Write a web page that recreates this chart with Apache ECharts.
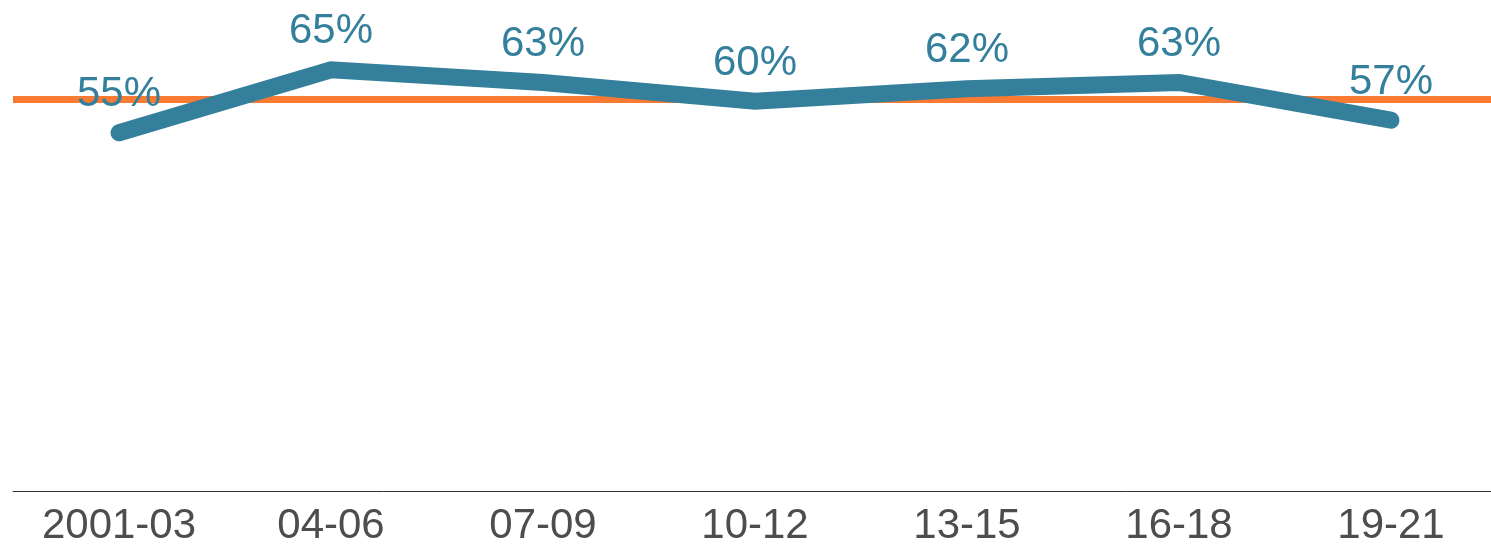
<!DOCTYPE html>
<html>
<head>
<meta charset="utf-8">
<script src="https://cdn.jsdelivr.net/npm/echarts@6/dist/echarts.min.js"></script>
<style>
html,body{margin:0;padding:0;background:#fff;overflow:hidden;}
#chart{width:1500px;height:547px;}
</style>
</head>
<body>
<div id="chart"></div>
<script>
const categories = ['2001-03', '04-06', '07-09', '10-12', '13-15', '16-18', '19-21'];
const shareValues = [55, 65, 63, 60, 62, 63, 57];
const referenceValue = 60.4;

const chart = echarts.init(document.getElementById('chart'));
chart.setOption({
  animation: false,
  backgroundColor: '#ffffff',
  grid: { left: 13, width: 1484, top: 7, bottom: 67.5, containLabel: false },
  xAxis: {
    type: 'category',
    data: categories,
    boundaryGap: true,
    offset: 12.5,
    axisLine: { show: true, onZero: false, lineStyle: { color: '#333333', width: 1 } },
    axisTick: { show: false },
    axisLabel: { color: '#4d4d4d', fontSize: 42, fontFamily: 'Liberation Sans, Arial, sans-serif', margin: 14, interval: 0 },
    splitLine: { show: false }
  },
  yAxis: {
    type: 'value',
    min: 0,
    max: 75,
    show: false,
    splitLine: { show: false }
  },
  series: [
    {
      name: 'ref',
      type: 'line',
      zlevel: 0,
      z: 1,
      data: [],
      markLine: {
        silent: true,
        symbol: ['none', 'none'],
        label: { show: false },
        lineStyle: { color: '#f97a33', width: 7, type: 'solid' },
        data: [{ yAxis: referenceValue }]
      }
    },
    {
      name: 'share',
      type: 'line',
      zlevel: 1,
      z: 3,
      data: shareValues,
      symbol: 'circle',
      symbolSize: 0.1,
      itemStyle: { color: 'rgba(0,0,0,0)' },
      lineStyle: { color: '#347f9b', width: 17, cap: 'round', join: 'miter' },
      label: {
        show: true,
        position: 'top',
        distance: 17,
        color: '#347f9b',
        fontSize: 42,
        fontFamily: 'Liberation Sans, Arial, sans-serif',
        formatter: p => p.value + '%'
      }
    }
  ]
});
</script>
</body>
</html>
